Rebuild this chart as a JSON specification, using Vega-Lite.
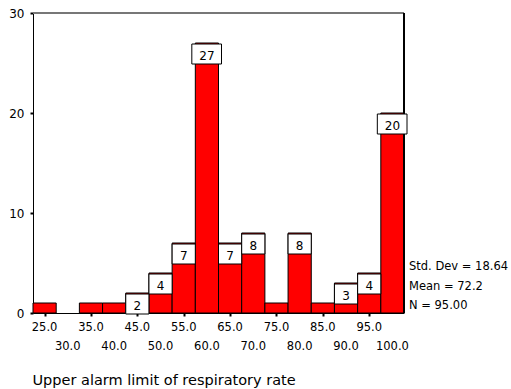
{
  "$schema": "https://vega.github.io/schema/vega-lite/v6.json",
  "width": 371,
  "height": 300,
  "autosize": {"type": "none"},
  "padding": {"left": 33, "top": 13, "right": 107, "bottom": 76},
  "background": "white",
  "config": {"view": {"stroke": null}, "font": "DejaVu Sans"},
  "data": {
    "values": [
      {"rate": 25, "bin_start": 22.5, "bin_end": 27.5, "count": 1},
      {"rate": 30, "bin_start": 27.5, "bin_end": 32.5, "count": 0},
      {"rate": 35, "bin_start": 32.5, "bin_end": 37.5, "count": 1},
      {"rate": 40, "bin_start": 37.5, "bin_end": 42.5, "count": 1},
      {"rate": 45, "bin_start": 42.5, "bin_end": 47.5, "count": 2},
      {"rate": 50, "bin_start": 47.5, "bin_end": 52.5, "count": 4},
      {"rate": 55, "bin_start": 52.5, "bin_end": 57.5, "count": 7},
      {"rate": 60, "bin_start": 57.5, "bin_end": 62.5, "count": 27},
      {"rate": 65, "bin_start": 62.5, "bin_end": 67.5, "count": 7},
      {"rate": 70, "bin_start": 67.5, "bin_end": 72.5, "count": 8},
      {"rate": 75, "bin_start": 72.5, "bin_end": 77.5, "count": 1},
      {"rate": 80, "bin_start": 77.5, "bin_end": 82.5, "count": 8},
      {"rate": 85, "bin_start": 82.5, "bin_end": 87.5, "count": 1},
      {"rate": 90, "bin_start": 87.5, "bin_end": 92.5, "count": 3},
      {"rate": 95, "bin_start": 92.5, "bin_end": 97.5, "count": 4},
      {"rate": 100, "bin_start": 97.5, "bin_end": 102.5, "count": 20}
    ]
  },
  "layer": [
    {
      "transform": [{"filter": "datum.count > 0"}],
      "mark": {"type": "bar", "orient": "vertical", "fill": "#ff0000", "stroke": "black", "strokeWidth": 1},
      "encoding": {
        "x": {
          "field": "bin_start",
          "type": "quantitative",
          "scale": {"domain": [22.5, 102.5], "nice": false, "zero": false, "padding": 0},
          "axis": {
            "values": [25, 30, 35, 40, 45, 50, 55, 60, 65, 70, 75, 80, 85, 90, 95, 100],
            "labels": false,
            "domainColor": "black",
            "domainWidth": 1,
            "tickColor": "black",
            "tickSize": 3,
            "tickWidth": 2,
            "grid": false,
            "title": "Upper alarm limit of respiratory rate",
            "titleFont": "DejaVu Sans",
            "titleFontSize": 14.5,
            "titleFontWeight": "normal",
            "titleColor": "black",
            "titleAnchor": "start",
            "titleAlign": "left",
            "titleBaseline": "alphabetic",
            "titleX": -1,
            "titleY": 71
          }
        },
        "x2": {"field": "bin_end"},
        "y": {
          "field": "count",
          "type": "quantitative",
          "scale": {"domain": [0, 30], "nice": false, "padding": 0},
          "axis": {
            "values": [0, 10, 20, 30],
            "format": "d",
            "labelFont": "DejaVu Sans",
            "labelFontSize": 12,
            "labelColor": "black",
            "labelPadding": 6,
            "labelFlush": false,
            "domainColor": "black",
            "domainWidth": 1,
            "tickColor": "black",
            "tickSize": 3,
            "tickWidth": 2,
            "grid": false,
            "title": null
          }
        }
      }
    },
    {
      "mark": {"type": "rule", "stroke": "#777777", "strokeWidth": 1.5},
      "encoding": {
        "x": {"datum": 22.5, "type": "quantitative"},
        "x2": {"datum": 102.5},
        "y": {"datum": 30, "type": "quantitative"}
      }
    },
    {
      "mark": {"type": "rule", "stroke": "black", "strokeWidth": 1},
      "encoding": {
        "x": {"datum": 102.5, "type": "quantitative"},
        "y": {"datum": 0, "type": "quantitative"},
        "y2": {"datum": 30}
      }
    },
    {
      "transform": [{"filter": "datum.count >= 2 && datum.count < 10"}],
      "mark": {"type": "bar", "orient": "vertical", "fill": "white", "stroke": "black", "strokeWidth": 1, "yOffset": 1, "y2Offset": 21},
      "encoding": {
        "x": {"field": "bin_start", "type": "quantitative"},
        "x2": {"field": "bin_end"},
        "y": {"field": "count", "type": "quantitative"},
        "y2": {"field": "count"}
      }
    },
    {
      "transform": [{"filter": "datum.count >= 10"}],
      "mark": {"type": "bar", "orient": "vertical", "fill": "white", "stroke": "black", "strokeWidth": 1, "yOffset": 1, "y2Offset": 21, "xOffset": -3.5, "x2Offset": 3},
      "encoding": {
        "x": {"field": "bin_start", "type": "quantitative"},
        "x2": {"field": "bin_end"},
        "y": {"field": "count", "type": "quantitative"},
        "y2": {"field": "count"}
      }
    },
    {
      "transform": [{"filter": "datum.count >= 2"}],
      "mark": {"type": "text", "font": "DejaVu Sans", "fontSize": 12, "color": "black", "align": "center", "baseline": "middle", "dy": 12.5},
      "encoding": {
        "x": {"field": "rate", "type": "quantitative"},
        "y": {"field": "count", "type": "quantitative"},
        "text": {"field": "count", "type": "quantitative"}
      }
    },
    {
      "transform": [{"filter": "datum.rate % 10 != 0"}],
      "mark": {"type": "text", "font": "DejaVu Sans", "fontSize": 11.5, "color": "black", "align": "center", "baseline": "top", "dy": 9},
      "encoding": {
        "x": {"field": "rate", "type": "quantitative"},
        "y": {"datum": 0, "type": "quantitative"},
        "text": {"field": "rate", "type": "quantitative", "format": ".1f"}
      }
    },
    {
      "transform": [{"filter": "datum.rate % 10 == 0"}],
      "mark": {"type": "text", "font": "DejaVu Sans", "fontSize": 11.5, "color": "black", "align": "center", "baseline": "top", "dy": 27.6},
      "encoding": {
        "x": {"field": "rate", "type": "quantitative"},
        "y": {"datum": 0, "type": "quantitative"},
        "text": {"field": "rate", "type": "quantitative", "format": ".1f"}
      }
    },
    {
      "data": {"values": [{"n": 95}]},
      "mark": {"type": "text", "font": "DejaVu Sans", "fontSize": 11.5, "color": "black", "align": "left", "baseline": "alphabetic", "lineHeight": 19.7, "dx": 5, "dy": -43},
      "encoding": {
        "x": {"datum": 102.5, "type": "quantitative"},
        "y": {"datum": 0, "type": "quantitative"},
        "text": {"value": ["Std. Dev = 18.64", "Mean = 72.2", "N = 95.00"]}
      }
    }
  ]
}
